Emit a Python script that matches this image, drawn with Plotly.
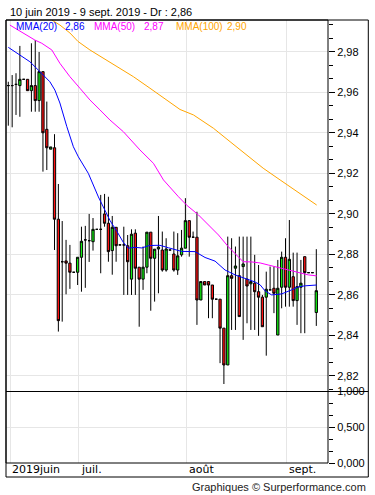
import plotly.graph_objects as go

# ---------------- data ----------------
candle_idx = list(range(81))
opens = [2.9634, 2.9634, 2.9640, 2.9634, 2.9665, 2.9665, 2.9609, 2.9634, 2.9560, 2.9703,
         2.9418, 2.9320, 2.9327, 2.8974, 2.8764, 2.8768, 2.8757, 2.8712, 2.8712, 2.8786,
         2.8872, 2.8868, 2.8863, 2.8924, 2.8924, 2.9000, 2.8954, 2.8819, 2.8934, 2.8847,
         2.8847, 2.8843, 2.8678, 2.8905, 2.8737, 2.8678, 2.8737, 2.8910, 2.8781, 2.8827,
         2.8822, 2.8723, 2.8822, 2.8802, 2.8723, 2.8798, 2.8831, 2.8967, 2.8885, 2.8885,
         2.8575, 2.8666, 2.8666, 2.8649, 2.8579, 2.8579, 2.8436, 2.8254, 2.8695, 2.8732,
         2.8695, 2.8740, 2.8678, 2.8655, 2.8658, 2.8616, 2.8589, 2.8589, 2.8625, 2.8633,
         2.8402, 2.8638, 2.8786, 2.8638, 2.8690, 2.8572, 2.8638, 2.8789, 2.8710, 2.8710,
         2.8513]
highs = [2.9653, 2.9686, 2.9695, 2.9830, 2.9665, 2.9665, 2.9843, 2.9859, 2.9800, 2.9703,
         2.9555, 2.9331, 2.9394, 2.9148, 2.8965, 2.8872, 2.8847, 2.8712, 2.8786, 2.8937,
         2.8941, 2.9000, 2.8980, 2.8924, 2.9094, 2.9099, 2.9085, 2.8990, 2.8934, 2.8847,
         2.8937, 2.8896, 2.8924, 2.8924, 2.8737, 2.8839, 2.8910, 2.8910, 2.8826, 2.8990,
         2.8913, 2.8880, 2.8822, 2.8913, 2.8905, 2.8921, 2.9078, 2.8967, 2.8913, 2.9011,
         2.8666, 2.8666, 2.8666, 2.8649, 2.8579, 2.8579, 2.8436, 2.8888, 2.8880, 2.8839,
         2.8888, 2.8888, 2.8888, 2.8888, 2.8798, 2.8748, 2.8600, 2.8715, 2.8740, 2.8740,
         2.8773, 2.8814, 2.8880, 2.8970, 2.8809, 2.8809, 2.8773, 2.8789, 2.8710, 2.8710,
         2.8826]
lows = [2.9436, 2.9428, 2.9489, 2.9480, 2.9665, 2.9609, 2.9505, 2.9505, 2.9505, 2.9209,
        2.9217, 2.9320, 2.8822, 2.8419, 2.8468, 2.8603, 2.8630, 2.8712, 2.8649, 2.8616,
        2.8635, 2.8763, 2.8819, 2.8924, 2.8707, 2.8937, 2.8764, 2.8700, 2.8764, 2.8847,
        2.8600, 2.8600, 2.8600, 2.8600, 2.8443, 2.8625, 2.8707, 2.8522, 2.8567, 2.8608,
        2.8715, 2.8715, 2.8822, 2.8715, 2.8699, 2.8789, 2.8831, 2.8789, 2.8885, 2.8452,
        2.8575, 2.8649, 2.8485, 2.8485, 2.8579, 2.8263, 2.8160, 2.8254, 2.8427, 2.8427,
        2.8493, 2.8378, 2.8460, 2.8427, 2.8427, 2.8398, 2.8443, 2.8300, 2.8625, 2.8510,
        2.8402, 2.8534, 2.8542, 2.8542, 2.8542, 2.8452, 2.8411, 2.8411, 2.8710, 2.8710,
        2.8447]
closes = [2.9634, 2.9634, 2.9640, 2.9665, 2.9665, 2.9609, 2.9634, 2.9560, 2.9703, 2.9401,
          2.9327, 2.9331, 2.8974, 2.8473, 2.8764, 2.8757, 2.8712, 2.8712, 2.8786, 2.8865,
          2.8872, 2.8868, 2.8924, 2.8924, 2.8924, 2.8954, 2.8814, 2.8934, 2.8843, 2.8847,
          2.8847, 2.8764, 2.8900, 2.8732, 2.8678, 2.8737, 2.8910, 2.8781, 2.8826, 2.8836,
          2.8723, 2.8827, 2.8822, 2.8723, 2.8793, 2.8831, 2.8967, 2.8885, 2.8885, 2.8575,
          2.8666, 2.8649, 2.8649, 2.8579, 2.8579, 2.8436, 2.8254, 2.8695, 2.8682, 2.8743,
          2.8493, 2.8753, 2.8644, 2.8666, 2.8616, 2.8589, 2.8443, 2.8628, 2.8625, 2.8608,
          2.8633, 2.8786, 2.8638, 2.8776, 2.8572, 2.8641, 2.8658, 2.8710, 2.8710, 2.8710,
          2.8621]

mma20_x = [0, 3, 5.6, 8.2, 10.8, 12.1, 13.4, 15.2, 16.9, 18.2, 20.8, 23.4, 25.1, 26.4,
           28.2, 29.9, 31.2, 32.9, 34.7, 36.4, 38.1, 39.4, 41.6, 45.0, 48.5, 51.1, 53.7,
           56.3, 58.9, 61.5, 64.1, 65.4, 66.7, 68.4, 71.0, 73.6, 75.3, 77.1, 80.1]
mma20_y = [2.9823, 2.9785, 2.9752, 2.9703, 2.9653, 2.9612, 2.9548, 2.9431, 2.9332, 2.9282,
           2.9200, 2.9084, 2.9022, 2.8968, 2.8914, 2.8859, 2.8831, 2.8835, 2.8832, 2.8843,
           2.8845, 2.8845, 2.8833, 2.8815, 2.8814, 2.8785, 2.8767, 2.8723, 2.8699, 2.8682,
           2.8664, 2.8650, 2.8620, 2.8600, 2.8605, 2.8625, 2.8640, 2.8645, 2.8649]

mma50_x = [0.4, 6.9, 8.7, 11.3, 13.4, 16.0, 18.6, 21.2, 23.8, 26.4, 29.9, 34.2, 37.7,
           40.3, 44.2, 46.3, 49.4, 52.4, 54.6, 57.1, 59.3, 61.0, 63.2, 65.4, 67.5, 71.0,
           74.5, 77.9, 80.1]
mma50_y = [2.9933, 2.9859, 2.9843, 2.9810, 2.9744, 2.9678, 2.9621, 2.9563, 2.9514, 2.9464,
           2.9406, 2.9316, 2.9250, 2.9168, 2.9085, 2.9044, 2.8995, 2.8937, 2.8896, 2.8839,
           2.8798, 2.8764, 2.8763, 2.8758, 2.8748, 2.8732, 2.8715, 2.8699, 2.8694]

mma100_x = [11.3, 13.4, 16.0, 18.1, 21.2, 24.7, 28.2, 32.5, 36.8, 41.1, 44.6, 48.1, 53.3,
            57.6, 61.9, 66.2, 70.6, 74.0, 77.5, 80.1]
mma100_y = [2.9958, 2.9933, 2.9894, 2.9852, 2.9810, 2.9769, 2.9727, 2.9678, 2.9621, 2.9563,
            2.9516, 2.9489, 2.9423, 2.9357, 2.9291, 2.9226, 2.9168, 2.9123, 2.9074, 2.9044]

legend_names = ["MMA(20)", "MMA(50)", "MMA(100)"]
legend_values = ["2,86", "2,87", "2,90"]
month_pos = [0.44, 18.36, 46.34, 72.31]
month_labels = ["2019juin", "juil.", "août", "sept."]
title_text = "10 juin 2019 - 9 sept. 2019 - Dr : 2,86"
credit_text = "Graphiques © Surperformance.com"

# ---------------- layout helpers ----------------
W, H = 375, 495
L, R, T, B = 6, 47, 20, 32
PW = W - L - R
PH = H - T - B


def px(x):
    return (x - L) / PW


def py(y):
    return (H - B - y) / PH


SPLIT = py(391.5)
GRID = "#e6e6e6"
COL20, COL50, COL100 = "#0000ff", "#ff00ff", "#ffa500"
SANS = "Liberation Sans"

fig = go.Figure()
fig.add_trace(go.Candlestick(
    x=candle_idx, open=opens, high=highs, low=lows, close=closes,
    increasing=dict(fillcolor="#11ee11", line=dict(color="black", width=1)),
    decreasing=dict(fillcolor="#ff1111", line=dict(color="black", width=1)),
    whiskerwidth=0, hoverinfo="none", xaxis="x", yaxis="y"))
for xs, ys, col in [(mma100_x, mma100_y, COL100), (mma50_x, mma50_y, COL50),
                    (mma20_x, mma20_y, COL20)]:
    fig.add_trace(go.Scatter(x=xs, y=ys, mode="lines", line=dict(color=col, width=1),
                             hoverinfo="skip", xaxis="x", yaxis="y"))
# empty volume panel (no volume drawn in the reference)
fig.add_trace(go.Scatter(x=[], y=[], mode="lines", hoverinfo="skip",
                         xaxis="x2", yaxis="y2"))

xcommon = dict(range=[-0.6, 83.04], tickvals=month_pos, showticklabels=False, ticks="",
               showgrid=True, gridcolor=GRID, gridwidth=1, zeroline=False, showline=False,
               fixedrange=True)
ycommon = dict(side="right", ticks="outside", ticklen=6, tickcolor="black", tickwidth=1,
               showgrid=True, gridcolor=GRID, gridwidth=1, zeroline=False, showline=False,
               tickfont=dict(family=SANS, size=11, color="black"), fixedrange=True)

fig.update_layout(
    width=W, height=H, margin=dict(l=L, r=R, t=T, b=B, pad=0),
    paper_bgcolor="white", plot_bgcolor="white", showlegend=False,
    separators=", ", boxgap=0.15,
    xaxis=dict(domain=[0, 1], anchor="y", rangeslider=dict(visible=False), **xcommon),
    xaxis2=dict(domain=[0, 1], anchor="y2", matches="x", **xcommon),
    yaxis=dict(domain=[SPLIT, 1], anchor="x", range=[2.8123, 2.9958], tick0=2.80,
               dtick=0.02, tickformat=".2f",
               minor=dict(ticks="outside", ticklen=4, tickcolor="black", dtick=0.02 / 3,
                          tick0=2.80, showgrid=False), **ycommon),
    yaxis2=dict(domain=[0, SPLIT], anchor="x2", range=[0, 1], tick0=0, dtick=0.5,
                tickformat=".3f",
                minor=dict(ticks="outside", ticklen=4, tickcolor="black", dtick=1 / 6,
                           tick0=0, showgrid=False), **ycommon),
)

shapes = [
    dict(type="rect", xref="paper", yref="paper", x0=0, x1=1, y0=0, y1=1,
         line=dict(color="black", width=1)),
    dict(type="rect", xref="paper", yref="paper", x0=0, x1=px(368.3), y0=py(477), y1=1,
         line=dict(color="black", width=1)),
    dict(type="line", xref="paper", yref="paper", x0=0, x1=px(368.3), y0=SPLIT, y1=SPLIT,
         line=dict(color="black", width=1)),
]
fig.update_layout(shapes=shapes)

ann = [dict(text=title_text, x=px(8), y=py(12.5), xref="paper", yref="paper",
            xanchor="left", yanchor="middle", showarrow=False,
            font=dict(family=SANS, size=11, color="black"))]
leg_pos = [(14, 63), (92, 142), (174, 225)]
for (xn, xv), name, val, col in zip(leg_pos, legend_names, legend_values,
                                    [COL20, COL50, COL100]):
    for xx, tx in [(xn, name), (xv, val)]:
        ann.append(dict(text=tx, x=px(xx), y=py(27), xref="paper", yref="paper",
                        xanchor="left", yanchor="middle", showarrow=False,
                        font=dict(family=SANS, size=10, color=col)))
for pos, lab in zip(month_pos, month_labels):
    ann.append(dict(text=lab, x=pos, xref="x", y=py(469.5), yref="paper", xshift=0,
                    xanchor="left", yanchor="middle", showarrow=False,
                    font=dict(family="DejaVu Sans", size=11, color="black")))
ann.append(dict(text=credit_text, x=px(367.5), y=py(486.5), xref="paper", yref="paper",
                xanchor="right", yanchor="middle", showarrow=False,
                font=dict(family=SANS, size=11, color="#222222")))
fig.update_layout(annotations=ann)

fig.write_html("out.html", config={"displayModeBar": False},
               post_script="document.body.style.margin='0';"
                           "document.body.style.padding='0';")
